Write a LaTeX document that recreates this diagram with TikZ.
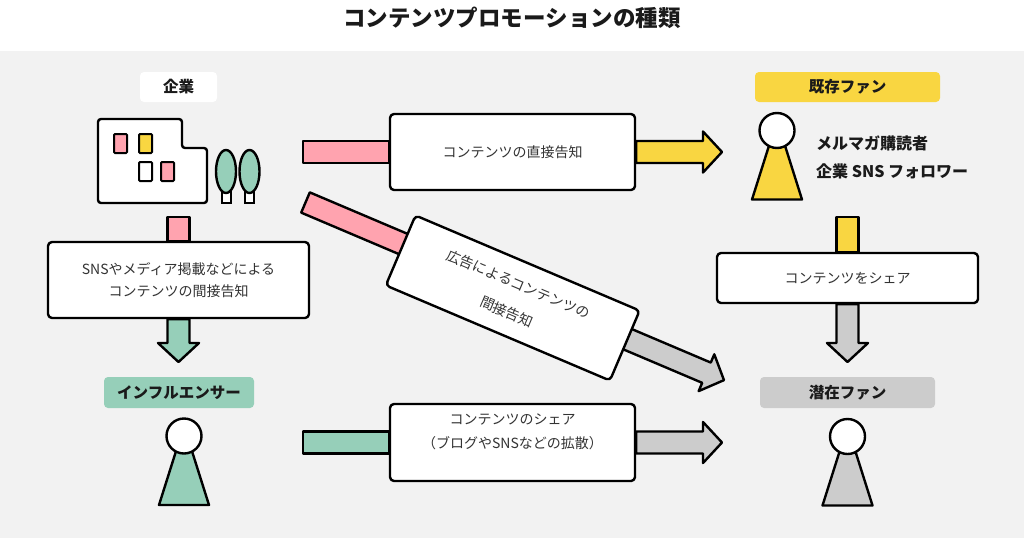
\documentclass[tikz,border=0pt]{standalone}
\usepackage{fontspec}
\setmainfont{Noto Sans CJK JP}
\usetikzlibrary{calc}
\pgfdeclarelayer{bgl}
\pgfdeclarelayer{arrowl}
\pgfsetlayers{bgl,arrowl,main}
\definecolor{bgc}{HTML}{F2F2F2}
\definecolor{cpink}{HTML}{FFA3AF}
\definecolor{cyellow}{HTML}{F9D641}
\definecolor{cgreen}{HTML}{96CFB9}
\definecolor{cgray}{HTML}{CCCCCC}
\definecolor{ctext}{HTML}{333333}
\definecolor{ctag}{HTML}{1A1A1A}
% horizontal fat arrow: from #1 to tip #2 (same y), fill #3
\newcommand{\myHarrow}[3]{%
  \draw[outl, fill=#3] ($(#1)+(0,-11)$) -- ($(#2)+(-19,-11)$) -- ($(#2)+(-19,-20.5)$) -- (#2)
    -- ($(#2)+(-19,20.5)$) -- ($(#2)+(-19,11)$) -- ($(#1)+(0,11)$) -- cycle;}
% vertical fat arrow: from #1 down to tip #2 (same x), fill #3
\newcommand{\myVarrow}[3]{%
  \draw[outl, fill=#3] ($(#1)+(-11,0)$) -- ($(#2)+(-11,-19)$) -- ($(#2)+(-20.5,-19)$) -- (#2)
    -- ($(#2)+(20.5,-19)$) -- ($(#2)+(11,-19)$) -- ($(#1)+(11,0)$) -- cycle;}
% person: head centre (#1,#2), fill #3
\newcommand{\myperson}[3]{%
  \draw[outl, fill=#3] (#1-7,#2+12) -- (#1+7,#2+12) -- (#1+25,#2+69) -- (#1-25,#2+69) -- cycle;
  \draw[outl, fill=white] (#1,#2) circle[radius=17.5];}
\begin{document}
\begin{tikzpicture}[x=1pt,y=-1pt,
  outl/.style={draw=black, line width=2.4pt, line join=round},
  msgbox/.style={outl, fill=white, rounded corners=4pt, text=ctext, align=center, inner sep=0pt},
  tag/.style={rounded corners=4pt, text=ctag, inner sep=0pt, font=\fontsize{15.5}{18}\selectfont\bfseries},
  win/.style={draw=black, line width=2pt, rounded corners=1pt},
]
\useasboundingbox (0,0) rectangle (1024,538);
\begin{pgfonlayer}{bgl}
  \fill[white] (0,0) rectangle (1024,538);
  \fill[bgc] (0,51) rectangle (1024,538);
\end{pgfonlayer}

% title
\node[font=\fontsize{22.5}{26}\selectfont\bfseries, text=ctag] (title) at (512,18) {コンテンツプロモーションの種類};

% tags
\node[tag, fill=white, minimum width=77pt, minimum height=30pt] (kigyo) at (178.5,87) {企業};
\node[tag, fill=cgreen, minimum width=150pt, minimum height=31pt] (infl) at (179,392.5) {インフルエンサー};
\node[tag, fill=cyellow, minimum width=185pt, minimum height=30pt] (kizon) at (847.5,87) {既存ファン};
\node[tag, fill=cgray, minimum width=175pt, minimum height=31pt] (senzai) at (847.5,392.5) {潜在ファン};

% message boxes
\node[msgbox, minimum width=245pt, minimum height=76pt, font=\fontsize{14}{22}\selectfont] (direct) at (512.5,152) {コンテンツの直接告知};
\node[msgbox, minimum width=261pt, minimum height=76pt, font=\fontsize{14}{21.5}\selectfont] (sns) at (178.5,280) {SNSやメディア掲載などによる\\コンテンツの間接告知};
\node[msgbox, minimum width=261pt, minimum height=50pt, font=\fontsize{14}{22}\selectfont] (share) at (847.5,278) {コンテンツをシェア};
\node[msgbox, minimum width=245pt, minimum height=77pt] (spread) at (512.5,442.5) {};
\node[text=ctext, align=center, inner sep=0pt, font=\fontsize{14}{24}\selectfont] (spreadtxt) at ($(spread.center)+(0,-10.5)$) {コンテンツのシェア\\（ブログやSNSなどの拡散）};
\node[msgbox, minimum width=243.5pt, minimum height=76pt, rotate=-23, font=\fontsize{14}{30}\selectfont] (ad) at (512.7,298) {広告によるコンテンツの\\間接告知};

% free ends of connectors
\coordinate (stA) at (303,152);
\coordinate (tipA) at (722,152);
\coordinate (stB) at (178.5,217);
\coordinate (tipB) at (178.5,362);
\coordinate (stC) at (847.5,217);
\coordinate (tipC) at (847.5,362);
\coordinate (stD) at (303,442.5);
\coordinate (tipD) at (722,442.5);
\coordinate (stE) at (305.5,202.5);

\begin{pgfonlayer}{arrowl}
  % direct notification
  \draw[outl, fill=cpink] ($(stA)+(0,-11)$) rectangle ($(direct.west)+(0,11)$);
  \myHarrow{direct.east}{tipA}{cyellow}
  % SNS / media
  \draw[outl, fill=cpink] ($(stB)+(-11,0)$) rectangle ($(sns.north)+(11,0)$);
  \myVarrow{sns.south}{tipB}{cgreen}
  % share
  \draw[outl, fill=cyellow] ($(stC)+(-11,0)$) rectangle ($(share.north)+(11,0)$);
  \myVarrow{share.south}{tipC}{cgray}
  % spread
  \draw[outl, fill=cgreen] ($(stD)+(0,-11)$) rectangle ($(spread.west)+(0,11)$);
  \myHarrow{spread.east}{tipD}{cgray}
  % advertising (diagonal)
  \begin{scope}[shift={(stE)}, rotate=-23]
    \draw[outl, fill=cpink] (0,-11) rectangle (125,11);
    \draw[outl, fill=cgray] (325,-11) -- (435.6,-11) -- (435.6,-20) -- (454.6,0) -- (435.6,20) -- (435.6,11) -- (325,11) -- cycle;
  \end{scope}
\end{pgfonlayer}

% company building
\draw[outl, fill=white, rounded corners=3pt] (98,119) -- (182,119) -- (182,148) -- (207,148) -- (207,203) -- (98,203) -- cycle;
\draw[win, fill=cpink] (114,134) rectangle (127,153);
\draw[win, fill=cyellow] (139,134) rectangle (152,153);
\draw[win, fill=white] (139,162) rectangle (152,181);
\draw[win, fill=cpink] (161,162) rectangle (174,181);
% trees
\draw[win, fill=white, rounded corners=0pt] (221.5,190) rectangle (230.5,202.5);
\draw[outl, fill=cgreen] (226,171.5) ellipse[x radius=10, y radius=21.5];
\draw[win, fill=white, rounded corners=0pt] (245,190) rectangle (254,202.5);
\draw[outl, fill=cgreen] (249.5,171.5) ellipse[x radius=10, y radius=21.5];

% people
\myperson{184}{436}{cgreen}
\myperson{777}{130.5}{cyellow}
\myperson{847.5}{436.5}{cgray}

% fan description
\node[anchor=west, inner sep=0pt, text=ctag, font=\fontsize{16}{18}\selectfont\bfseries] (fan1) at (816,143) {メルマガ購読者};
\node[anchor=west, inner sep=0pt, text=ctag, font=\fontsize{16}{18}\selectfont\bfseries] (fan2) at (816,171) {企業 SNS フォロワー};
\end{tikzpicture}
\end{document}
